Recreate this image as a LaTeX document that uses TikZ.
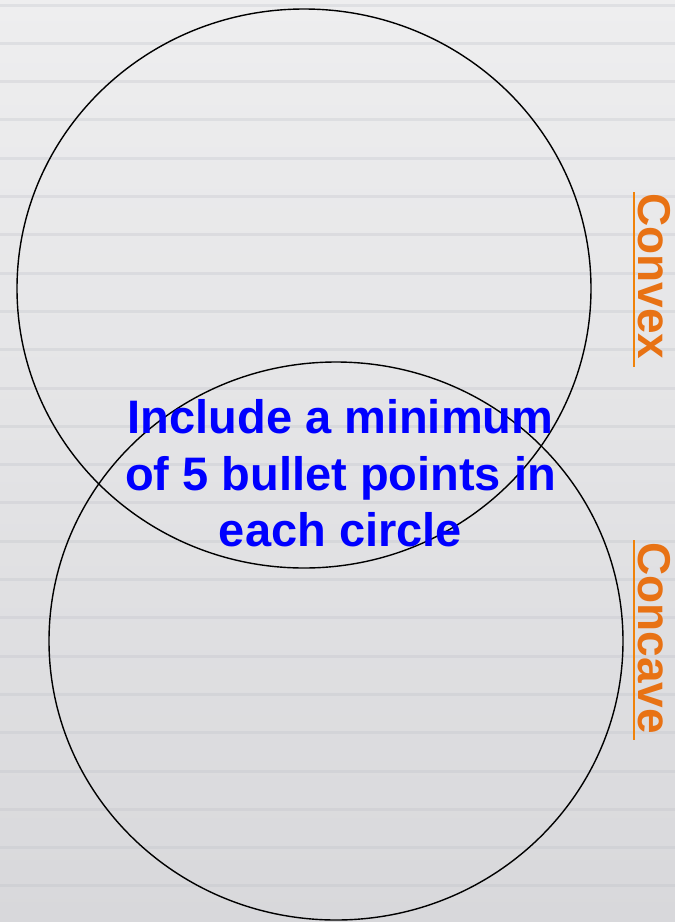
\documentclass[tikz,border=0pt]{standalone}
\usepackage{fontspec}
\setmainfont{Liberation Sans}
\definecolor{bgtop}{RGB}{238,238,239}
\definecolor{bgbot}{RGB}{216,216,219}
\definecolor{stripe}{RGB}{190,192,200}
\definecolor{txtblue}{RGB}{0,0,255}
\definecolor{lblorange}{RGB}{232,114,20}
\definecolor{lineorange}{RGB}{240,130,10}
\tikzset{
  venn/.style={draw=black, line width=1.4pt},
  maintext/.style={text=txtblue, font=\fontsize{47}{56}\selectfont\bfseries, inner sep=0pt, anchor=base},
  sidelabel/.style={text=lblorange, font=\fontsize{46}{56}\selectfont\bfseries, inner sep=0pt, rotate=-90, anchor=base west},
  underl/.style={draw=lineorange, line width=2pt}
}
\begin{document}
\begin{tikzpicture}[x=1pt,y=1pt]
\useasboundingbox (0,0) rectangle (675,-922);
\shade[top color=bgtop, bottom color=bgbot] (0,0) rectangle (675,-922);
\foreach \k in {0,...,23} {
  \draw[stripe, opacity=0.3, line width=3pt] (0,{-5-38.3*\k}) -- (675,{-5-38.3*\k});
}
\draw[venn] (304,-288.5) ellipse [x radius=287, y radius=279.5];
\draw[venn] (336,-641) ellipse [x radius=287, y radius=279];
\node[maintext] (l1) at (340.5,-433) {Include a minimum};
\node[maintext] (l2) at (340.5,-490) {of 5 bullet points in};
\node[maintext] (l3) at (340.5,-546) {each circle};
\node[sidelabel] (convex) at (638,-193) {Convex};
\node[sidelabel] (concave) at (638,-542) {Concave};
\coordinate (u1a) at (634,-192);
\coordinate (u1b) at (634,-367);
\coordinate (u2a) at (634,-540);
\coordinate (u2b) at (634,-740);
\draw[underl] (u1a) -- (u1b);
\draw[underl] (u2a) -- (u2b);
\end{tikzpicture}
\end{document}
